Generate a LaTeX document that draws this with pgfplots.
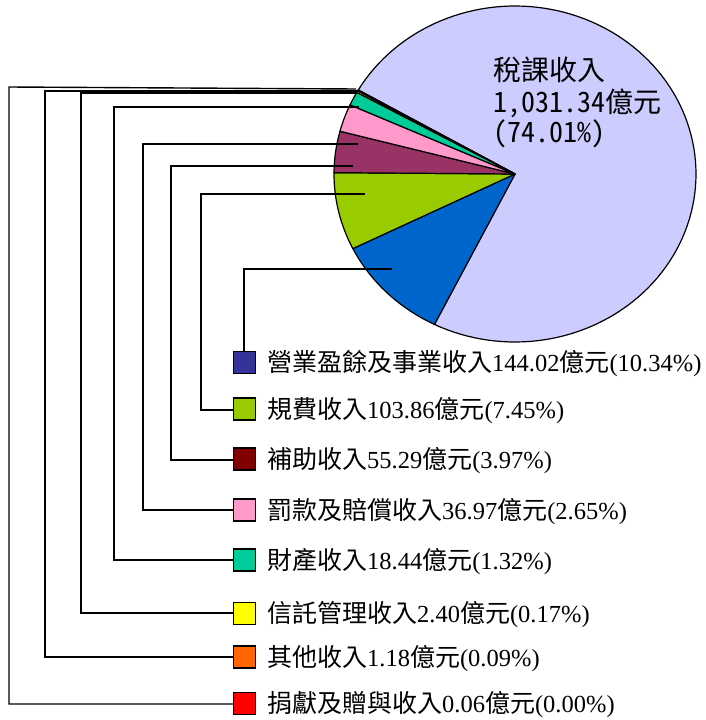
\documentclass[border=0pt]{standalone}
\usepackage{fontspec}
\setmainfont{Liberation Serif}
\newfontfamily\cjk{Noto Sans CJK TC}
\newfontfamily\cjkhw{Noto Sans CJK TC}[RawFeature=+hwid]
\usepackage{pgfplots}
\usepackage{pgfplotstable}
\pgfplotsset{compat=1.18}

\definecolor{taxc}{HTML}{CCCCFF}
\definecolor{bizc}{HTML}{0066CC}
\definecolor{bizl}{HTML}{333399}
\definecolor{feec}{HTML}{99CC00}
\definecolor{subc}{HTML}{993366}
\definecolor{subl}{HTML}{800000}
\definecolor{finc}{HTML}{FF99CC}
\definecolor{propc}{HTML}{00CC99}
\definecolor{trustc}{HTML}{FFFF00}
\definecolor{othc}{HTML}{FF6600}
\definecolor{donc}{HTML}{FF0000}

% revenue in 100 million NT$ (order: tax, business, fees, subsidy, fines, property, trust, other, donations)
\pgfplotstableread{
value
1031.34
144.02
103.86
55.29
36.97
18.44
2.40
1.18
0.06
}\piedata

\pgfplotstablegetrowsof{\piedata}
\pgfmathtruncatemacro\pien{\pgfplotsretval-1}
\gdef\pietotal{0}
\foreach \i in {0,...,\pien}{%
  \pgfplotstablegetelem{\i}{value}\of\piedata
  \pgfmathsetmacro\tmp{\pietotal+\pgfplotsretval}%
  \xdef\pietotal{\tmp}%
}
\gdef\piecum{0}
\foreach \i in {0,...,\pien}{%
  \pgfplotstablegetelem{\i}{value}\of\piedata
  \pgfmathsetmacro\angstart{150-360*(\piecum/\pietotal)}%
  \pgfmathsetmacro\tmp{\piecum+\pgfplotsretval}%
  \xdef\piecum{\tmp}%
  \pgfmathsetmacro\angend{150-360*(\piecum/\pietotal)}%
  \expandafter\xdef\csname pieS\i\endcsname{\angstart}%
  \expandafter\xdef\csname pieE\i\endcsname{\angend}%
}
\newcommand\pieS[1]{\csname pieS#1\endcsname}
\newcommand\pieE[1]{\csname pieE#1\endcsname}
\newcommand\slice[3]{%
  \addplot[draw=black, line width=1.2pt, line join=round, fill=#2,
    domain=\pieE{#1}:\pieS{#1}, samples=#3, variable=\t]
    ({515+181*cos(\t)},{174-168*sin(\t)}) -- (axis cs:515,174) -- cycle;}
\newcommand\zh[1]{{\cjk\fontsize{25}{30}\selectfont #1}}
\newcommand\legsq[3]{%
  \addplot[only marks, mark=square*, mark size=11pt,
    mark options={fill=#1, draw=black, line width=1.3pt}] coordinates {(#2,#3)};}

\begin{document}
\begin{tikzpicture}
\begin{axis}[hide axis, scale only axis, width=706pt, height=720pt,
  xmin=0, xmax=706, ymin=0, ymax=720, y dir=reverse, clip=false]
\coordinate (bl) at (axis cs:0,720);
\coordinate (tr) at (axis cs:706,0);
% pie slices
\slice{0}{taxc}{120}
\slice{1}{bizc}{20}
\slice{2}{feec}{20}
\slice{3}{subc}{10}
\slice{4}{finc}{10}
\slice{5}{propc}{6}
\slice{6}{trustc}{3}
\slice{7}{othc}{3}
\slice{8}{donc}{2}
% leader lines
\pgfplotsset{leader/.style={black, line width=1.4pt}}
\addplot[leader] coordinates {(244,352) (244,269) (392,269)};
\addplot[leader] coordinates {(233,410) (201,410) (201,194) (365,194)};
\addplot[leader] coordinates {(233,460) (171,460) (171,166) (353,166)};
\addplot[leader] coordinates {(233,510) (143,510) (143,144) (358,144)};
\addplot[leader] coordinates {(233,560) (114,560) (114,107) (359,107)};
\addplot[leader] coordinates {(233,613) (81,613) (81,93) (358,93)};
\addplot[leader] coordinates {(233,657) (45,657) (45,91) (358,91)};
\addplot[leader] coordinates {(233,704) (9,704) (9,87) (356,89)};
% legend squares
\legsq{bizl}{244.5}{362.5}
\legsq{feec}{244.5}{409}
\legsq{subl}{244.5}{459}
\legsq{finc}{244.5}{510}
\legsq{propc}{244.5}{560}
\legsq{trustc}{244.5}{613.5}
\legsq{othc}{244.5}{657}
\legsq{donc}{244.5}{703.5}
% legend texts
\begin{scope}[every node/.style={anchor=base west, inner sep=0pt, font=\fontsize{24.5}{28}\selectfont}]
\node at (axis cs:267,371) {\zh{營業盈餘及事業收入}144.02\zh{億元}(10.34\%)};
\node at (axis cs:267,418) {\zh{規費收入}103.86\zh{億元}(7.45\%)};
\node at (axis cs:267,468) {\zh{補助收入}55.29\zh{億元}(3.97\%)};
\node at (axis cs:267,519) {\zh{罰款及賠償收入}36.97\zh{億元}(2.65\%)};
\node at (axis cs:267,569) {\zh{財產收入}18.44\zh{億元}(1.32\%)};
\node at (axis cs:267,622) {\zh{信託管理收入}2.40\zh{億元}(0.17\%)};
\node at (axis cs:267,666) {\zh{其他收入}1.18\zh{億元}(0.09\%)};
\node at (axis cs:267,712) {\zh{捐獻及贈與收入}0.06\zh{億元}(0.00\%)};
\end{scope}
% tax label
\begin{scope}[every node/.style={anchor=base west, inner sep=0pt, font=\cjk\fontsize{28}{31}\selectfont}]
\node at (axis cs:493,80) {稅課收入};
\node at (axis cs:493,112) {{\cjkhw 1,031.34}億元};
\node at (axis cs:493,142) {{\cjkhw (74.01\%)}};
\end{scope}
\end{axis}
\pgfresetboundingbox
\path (bl) rectangle (tr);
\end{tikzpicture}
\end{document}
